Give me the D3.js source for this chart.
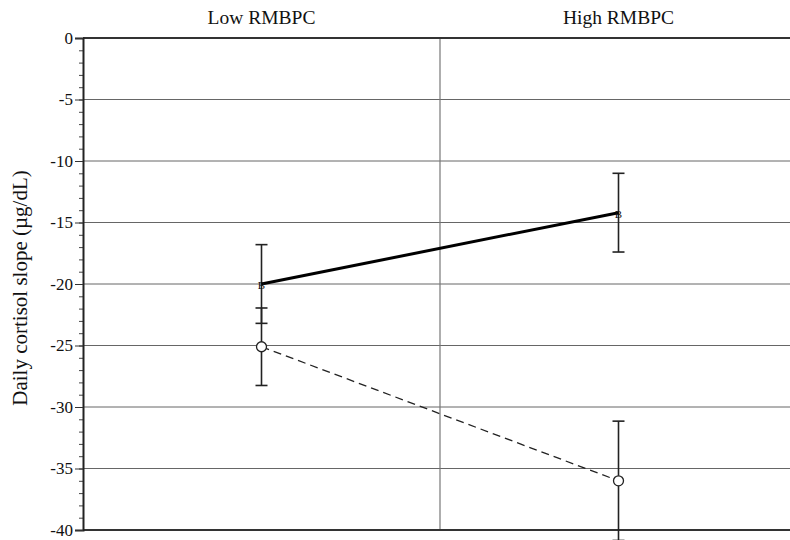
<!DOCTYPE html>
<html>
<head>
<meta charset="utf-8">
<script src="https://cdn.jsdelivr.net/npm/d3@7"></script>
<style>
  body { margin: 0; background: #fff; }
  text { font-family: "Liberation Serif", "Times New Roman", serif; fill: #111; }
</style>
</head>
<body>
<script>
// data
const categories = ['Low RMBPC', 'High RMBPC'];
const solidMeans = [-20.0, -14.2];
const solidErr = [3.2, 3.2];
const dashedMeans = [-25.1, -36.0];
const dashedErr = [3.15, 4.85];
const yTicks = [0, -5, -10, -15, -20, -25, -30, -35, -40];

const w = 790;
const h = 540;
const margin = { top: 38, right: -7, bottom: 10, left: 83 };

let svg = d3.select('body').append('svg').attr('width', w).attr('height', h);

let x = d3.scaleBand().domain(categories).range([margin.left, w - margin.right]);
let y = d3.scaleLinear().domain([-40, 0]).range([h - margin.bottom, margin.top]);

// horizontal grid
svg.append('g')
  .selectAll('line')
  .data(yTicks.filter((d) => d !== 0 && d !== -40))
  .enter()
  .append('line')
  .attr('x1', margin.left)
  .attr('x2', w - margin.right)
  .attr('y1', (d) => y(d))
  .attr('y2', (d) => y(d))
  .attr('stroke', '#666')
  .attr('stroke-width', 1);

// divider between categories
svg.append('line')
  .attr('x1', x(categories[1]))
  .attr('x2', x(categories[1]))
  .attr('y1', y(0))
  .attr('y2', y(-40))
  .attr('stroke', '#777')
  .attr('stroke-width', 1.2);

// top and bottom frame
[0, -40].forEach((v) => {
  svg.append('line')
    .attr('x1', margin.left)
    .attr('x2', w - margin.right)
    .attr('y1', y(v))
    .attr('y2', y(v))
    .attr('stroke', '#333')
    .attr('stroke-width', 2);
});

// y axis with minor ticks
svg.append('g')
  .attr('transform', 'translate(' + margin.left + ',0)')
  .call(d3.axisLeft(y).tickValues(d3.range(-40, 1, 1)).tickSize(4).tickFormat(''))
  .call((g) => g.select('.domain').remove())
  .call((g) => g.selectAll('line').attr('stroke', '#444'));

svg.append('g')
  .attr('transform', 'translate(' + margin.left + ',0)')
  .call(d3.axisLeft(y).tickValues(yTicks).tickSize(8).tickPadding(2).tickFormat((d) => String(d)))
  .call((g) => g.select('.domain').attr('stroke', '#222').attr('stroke-width', 2))
  .call((g) => g.selectAll('line').attr('stroke', '#333'))
  .call((g) => g.selectAll('text')
    .attr('font-size', 17)
    .attr('font-family', '"Liberation Serif", serif')
    .attr('fill', '#111'));

// category labels on top
svg.append('g')
  .selectAll('text')
  .data(categories)
  .enter()
  .append('text')
  .attr('x', (d) => x(d) + x.bandwidth() / 2)
  .attr('y', 24)
  .attr('text-anchor', 'middle')
  .attr('font-size', 19.5)
  .text((d) => d);

// y axis title
svg.append('text')
  .attr('transform', 'translate(27,' + 288 + ') rotate(-90)')
  .attr('text-anchor', 'middle')
  .attr('font-size', 21)
  .text('Daily cortisol slope (µg/dL)');

const cx = (i) => x(categories[i]) + x.bandwidth() / 2;

function errorBars(means, errs) {
  let g = svg.append('g').attr('stroke', '#222').attr('stroke-width', 1.6);
  means.forEach((m, i) => {
    g.append('line').attr('x1', cx(i)).attr('x2', cx(i)).attr('y1', y(m + errs[i])).attr('y2', y(m - errs[i]));
    [m + errs[i], m - errs[i]].forEach((v) => {
      g.append('line').attr('x1', cx(i) - 6).attr('x2', cx(i) + 6).attr('y1', y(v)).attr('y2', y(v));
    });
  });
}

errorBars(solidMeans, solidErr);
errorBars(dashedMeans, dashedErr);

let line = d3.line().x((d, i) => cx(i)).y((d) => y(d));

svg.append('path')
  .datum(solidMeans)
  .attr('d', line)
  .attr('fill', 'none')
  .attr('stroke', '#000')
  .attr('stroke-width', 3);

svg.append('path')
  .datum(dashedMeans)
  .attr('d', line)
  .attr('fill', 'none')
  .attr('stroke', '#222')
  .attr('stroke-width', 1.3)
  .attr('stroke-dasharray', '8,5');

// markers
svg.append('g')
  .selectAll('text')
  .data(solidMeans)
  .enter()
  .append('text')
  .attr('x', (d, i) => cx(i))
  .attr('y', (d) => y(d) + 5)
  .attr('text-anchor', 'middle')
  .attr('font-size', 11)
  .attr('fill', '#222')
  .text('B');

svg.append('g')
  .selectAll('circle')
  .data(dashedMeans)
  .enter()
  .append('circle')
  .attr('cx', (d, i) => cx(i))
  .attr('cy', (d) => y(d))
  .attr('r', 5)
  .attr('fill', '#fff')
  .attr('stroke', '#222')
  .attr('stroke-width', 1.3);
</script>
</body>
</html>
